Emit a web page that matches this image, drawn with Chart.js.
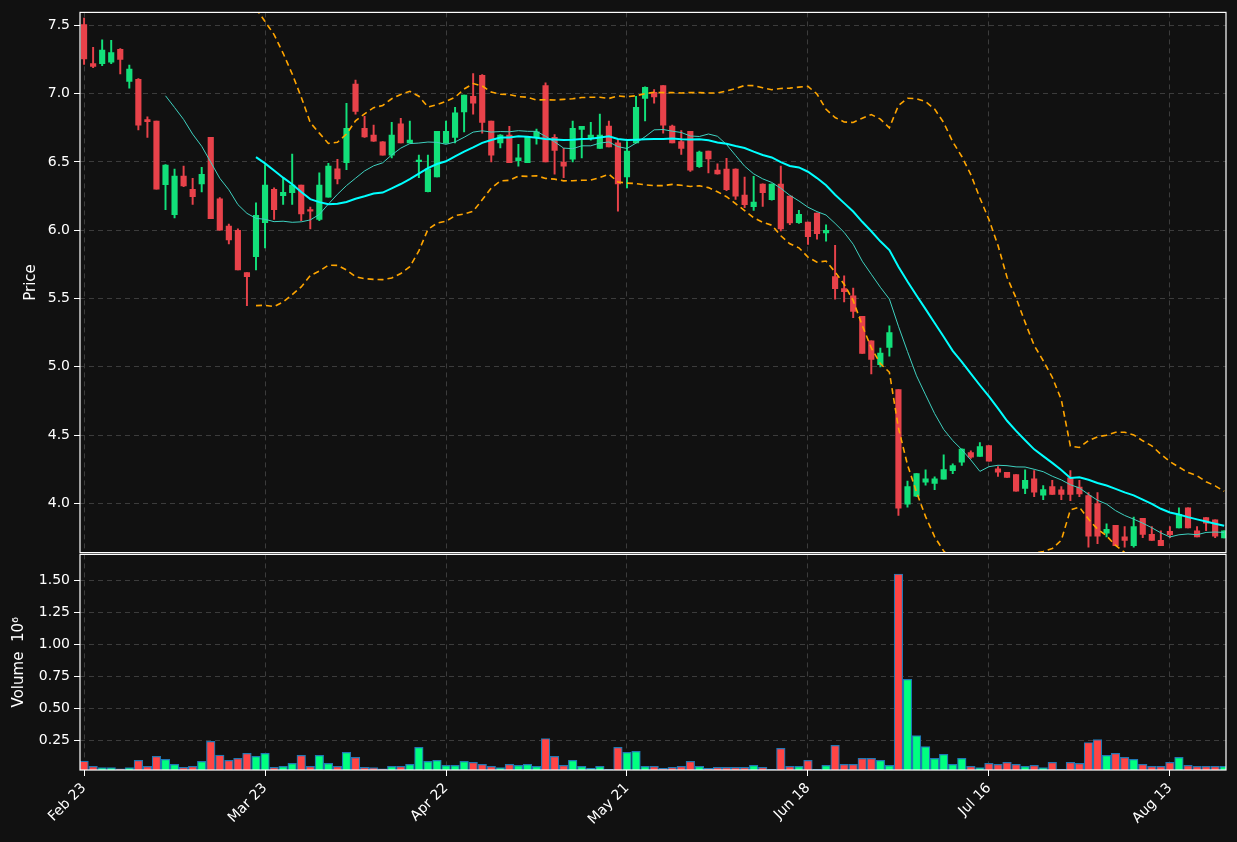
<!DOCTYPE html>
<html><head><meta charset="utf-8">
<script src="https://cdn.jsdelivr.net/npm/chart.js@4"></script>
<style>
html,body{margin:0;padding:0;background:#111111;width:1237px;height:842px;overflow:hidden}
#c1{position:absolute;left:0;top:0}
#c2{position:absolute;left:0;top:542px}
</style></head><body>
<canvas id="c1" width="1237" height="565"></canvas>
<canvas id="c2" width="1237" height="300"></canvas>
<script>
const opens=[7.505,7.22,7.22,7.23,7.325,7.09,7.105,6.81,6.80,6.333,6.114,6.397,6.30,6.34,6.68,6.23,6.03,6.0,5.69,5.807,6.056,6.30,6.253,6.275,6.33,6.15,6.08,6.243,6.45,6.494,7.07,6.747,6.696,6.648,6.55,6.78,6.64,6.502,6.282,6.39,6.638,6.68,6.866,6.98,7.135,6.80,6.64,6.696,6.51,6.494,6.68,7.06,6.68,6.50,6.52,6.738,6.672,6.60,6.762,6.64,6.39,6.64,6.965,7.01,7.06,6.762,6.65,6.725,6.465,6.58,6.44,6.448,6.448,6.258,6.172,6.338,6.224,6.338,6.25,6.055,6.06,6.126,5.98,5.66,5.573,5.52,5.37,5.19,5.016,5.142,4.833,3.995,4.054,4.155,4.146,4.177,4.24,4.302,4.373,4.345,4.424,4.253,4.228,4.212,4.11,4.18,4.06,4.124,4.10,4.188,4.12,4.058,3.998,3.783,3.84,3.755,3.69,3.89,3.773,3.73,3.795,3.82,3.968,3.80,3.896,3.88,3.747];
const highs=[7.553,7.34,7.395,7.39,7.33,7.21,7.11,6.83,6.80,6.48,6.448,6.47,6.38,6.46,6.68,6.24,6.046,6.01,5.69,6.2,6.48,6.31,6.385,6.557,6.33,6.17,6.42,6.49,6.52,6.93,7.10,6.835,6.77,6.65,6.79,6.82,6.80,6.55,6.55,6.725,6.80,6.90,6.99,7.147,7.14,6.80,6.70,6.76,6.63,6.68,6.74,7.08,6.70,6.60,6.80,6.76,6.79,6.85,6.80,6.66,6.65,6.98,7.05,7.03,7.06,6.77,6.73,6.725,6.58,6.58,6.487,6.526,6.45,6.39,6.394,6.34,6.34,6.47,6.25,6.146,6.06,6.126,6.04,5.89,5.666,5.576,5.37,5.19,5.138,5.30,4.833,4.163,4.219,4.246,4.195,4.356,4.29,4.40,4.385,4.446,4.424,4.27,4.228,4.212,4.246,4.24,4.13,4.17,4.124,4.24,4.17,4.08,4.08,3.85,3.84,3.83,3.90,3.89,3.83,3.80,3.83,3.968,3.968,3.83,3.896,3.88,3.80];
const lows=[7.215,7.19,7.205,7.22,7.144,7.04,6.735,6.68,6.30,6.15,6.09,6.32,6.19,6.28,6.085,6.0,5.90,5.71,5.447,5.71,5.87,6.08,6.19,6.19,6.07,6.01,6.07,6.243,6.34,6.443,6.85,6.68,6.65,6.55,6.53,6.64,6.64,6.385,6.28,6.39,6.638,6.64,6.72,6.85,6.71,6.50,6.603,6.494,6.47,6.494,6.63,6.50,6.41,6.385,6.50,6.53,6.66,6.60,6.61,6.14,6.31,6.64,6.80,6.93,6.71,6.64,6.555,6.43,6.46,6.42,6.41,6.29,6.226,6.165,6.146,6.175,6.22,5.995,6.04,6.05,5.897,5.934,5.92,5.495,5.476,5.36,5.098,4.948,5.0,5.079,3.912,3.973,4.05,4.134,4.10,4.177,4.217,4.278,4.33,4.345,4.31,4.197,4.19,4.09,4.071,4.05,4.027,4.066,4.027,4.02,4.05,3.68,3.705,3.754,3.69,3.68,3.68,3.75,3.73,3.69,3.75,3.82,3.82,3.755,3.80,3.75,3.747];
const closes=[7.254,7.20,7.32,7.30,7.25,7.18,6.77,6.795,6.30,6.477,6.397,6.324,6.245,6.41,6.085,6.0,5.93,5.71,5.66,6.11,6.33,6.15,6.277,6.33,6.12,6.14,6.33,6.47,6.375,6.747,6.87,6.684,6.652,6.55,6.696,6.64,6.66,6.51,6.45,6.725,6.725,6.86,6.99,6.93,6.79,6.55,6.696,6.494,6.53,6.68,6.72,6.50,6.585,6.47,6.747,6.76,6.696,6.696,6.61,6.34,6.58,6.90,7.047,6.976,6.77,6.64,6.60,6.44,6.572,6.523,6.413,6.297,6.25,6.187,6.207,6.275,6.338,6.01,6.053,6.117,5.953,5.975,6.0,5.573,5.551,5.405,5.098,5.055,5.10,5.25,3.966,4.124,4.219,4.18,4.18,4.248,4.278,4.397,4.338,4.416,4.31,4.228,4.19,4.09,4.17,4.083,4.102,4.066,4.066,4.066,4.07,3.76,3.76,3.81,3.69,3.73,3.83,3.773,3.73,3.69,3.772,3.92,3.82,3.755,3.856,3.76,3.80];
const volumes=[.087,.046,.035,.035,.027,.035,.092,.046,.123,.10,.061,.038,.046,.085,.24,.134,.092,.108,.147,.123,.147,.038,.046,.069,.131,.046,.131,.069,.046,.154,.116,.038,.035,.027,.046,.046,.061,.193,.085,.092,.054,.054,.085,.077,.061,.046,.035,.061,.054,.061,.046,.263,.123,.054,.092,.046,.03,.046,.022,.193,.154,.162,.046,.046,.03,.038,.046,.085,.046,.03,.038,.038,.038,.038,.054,.038,.022,.186,.046,.046,.092,.022,.054,.209,.061,.061,.108,.108,.092,.054,1.547,.724,.286,.20,.108,.139,.061,.108,.046,.035,.069,.061,.077,.061,.046,.054,.035,.077,.022,.077,.069,.232,.255,.131,.147,.116,.10,.061,.046,.046,.077,.116,.054,.046,.046,.046,.046];
const tickIdx=[0,20,40,60,80,100,120];
const tickLabels=['Feb 23','Mar 23','Apr 22','May 21','Jun 18','Jul 16','Aug 13'];
const priceTicks=[4.0,4.5,5.0,5.5,6.0,6.5,7.0,7.5];
const volTicks=[0.25,0.5,0.75,1.0,1.25,1.5];

const N=closes.length;
const idx=[...Array(N).keys()];
const up=idx.map(i=>closes[i]>=opens[i]);
function sma(p){return idx.map(i=>{if(i<p-1)return null;let s=0;for(let k=i-p+1;k<=i;k++)s+=closes[k];return s/p;});}
function sd(p,m){return idx.map(i=>{if(i<p-1)return null;let s=0;for(let k=i-p+1;k<=i;k++)s+=(closes[k]-m[i])**2;return Math.sqrt(s/p);});}
const ma10=sma(10),ma20=sma(20),sd20=sd(20,ma20);
const bbU=idx.map(i=>ma20[i]==null?null:ma20[i]+2*sd20[i]);
const bbL=idx.map(i=>ma20[i]==null?null:ma20[i]-2*sd20[i]);
const pts=a=>idx.map(i=>({x:i,y:a[i]}));

Chart.defaults.color='#ffffff';
Chart.defaults.font.family='DejaVu Sans';
Chart.defaults.font.size=14;
Chart.defaults.animation=false;
const GRID='#3c3c3c';
const frame={id:'frame',afterDraw(c){const a=c.chartArea,x=c.ctx;x.save();x.strokeStyle='#ffffff';x.lineWidth=1.2;x.strokeRect(a.left,a.top,a.right-a.left,a.bottom-a.top);x.restore();}};
const xCommon=(showLabels)=>({type:'linear',min:-0.45,max:126.2,offset:false,
  afterBuildTicks:s=>{s.ticks=tickIdx.map(v=>({value:v}));},
  grid:{color:GRID,tickColor:'#ffffff',tickLength:6,drawTicks:showLabels,offset:false},
  border:{display:false,dash:[5,4]},
  ticks:{display:showLabels,autoSkip:false,maxRotation:45,minRotation:45,padding:4,font:{size:14},
    callback:v=>{const k=tickIdx.indexOf(v);return k>=0?tickLabels[k]:'';}},
  afterFit:s=>{s.height=showLabels?72:0;}});
const grd={color:GRID,tickColor:'#ffffff',tickLength:6};

new Chart(document.getElementById('c1'),{
  data:{datasets:[
    {type:'bar',data:idx.map(i=>({x:i,y:[lows[i],highs[i]]})),backgroundColor:idx.map(i=>up[i]?'#12e07a':'#e8424a'),barThickness:1.3,grouped:false,order:5},
    {type:'bar',data:idx.map(i=>({x:i,y:[opens[i],closes[i]]})),backgroundColor:idx.map(i=>up[i]?'#12e07a':'#e8424a'),barThickness:5.5,minBarLength:1.5,grouped:false,order:4},
    {type:'line',data:pts(ma10),borderColor:'#3fd1c0',borderWidth:1,pointRadius:0,order:3},
    {type:'line',data:pts(ma20),borderColor:'#00ffff',borderWidth:2,pointRadius:0,order:2},
    {type:'line',data:pts(bbU),borderColor:'#ffa500',borderWidth:1.6,borderDash:[6,4],pointRadius:0,order:1},
    {type:'line',data:pts(bbL),borderColor:'#ffa500',borderWidth:1.6,borderDash:[6,4],pointRadius:0,order:1}
  ]},
  options:{responsive:false,devicePixelRatio:1,layout:{padding:{left:0,right:11,top:11,bottom:1}},
    plugins:{legend:{display:false},tooltip:{enabled:false}},
    scales:{
      x:xCommon(false),
      y:{type:'linear',min:3.64,max:7.595,afterBuildTicks:s=>{s.ticks=priceTicks.map(v=>({value:v}));},
        grid:grd,border:{display:false,dash:[5,4]},
        ticks:{callback:v=>v.toFixed(1),padding:4,font:{size:14}},
        title:{display:true,text:'Price',font:{size:15},padding:{top:22,bottom:0}},
        afterFit:s=>{s.width=80;}}
    }},
  plugins:[frame]});

new Chart(document.getElementById('c2'),{
  data:{datasets:[
    {type:'bar',data:idx.map(i=>({x:i,y:volumes[i]})),backgroundColor:idx.map(i=>up[i]?'#00ff80':'#ff4545'),borderColor:'#1f77b4',borderWidth:1.2,borderSkipped:false,barThickness:8.6,grouped:false}
  ]},
  options:{responsive:false,devicePixelRatio:1,layout:{padding:{left:0,right:11,top:1,bottom:0}},
    plugins:{legend:{display:false},tooltip:{enabled:false}},
    scales:{
      x:xCommon(true),
      y:{type:'linear',min:0.017,max:1.70,afterBuildTicks:s=>{s.ticks=volTicks.map(v=>({value:v}));},
        grid:grd,border:{display:false,dash:[5,4]},
        ticks:{callback:v=>v.toFixed(2),padding:4,font:{size:14}},
        title:{display:true,text:'Volume  10⁶',font:{size:15},padding:{top:10,bottom:0}},
        afterFit:s=>{s.width=80;}}
    }},
  plugins:[frame]});
</script></body></html>
